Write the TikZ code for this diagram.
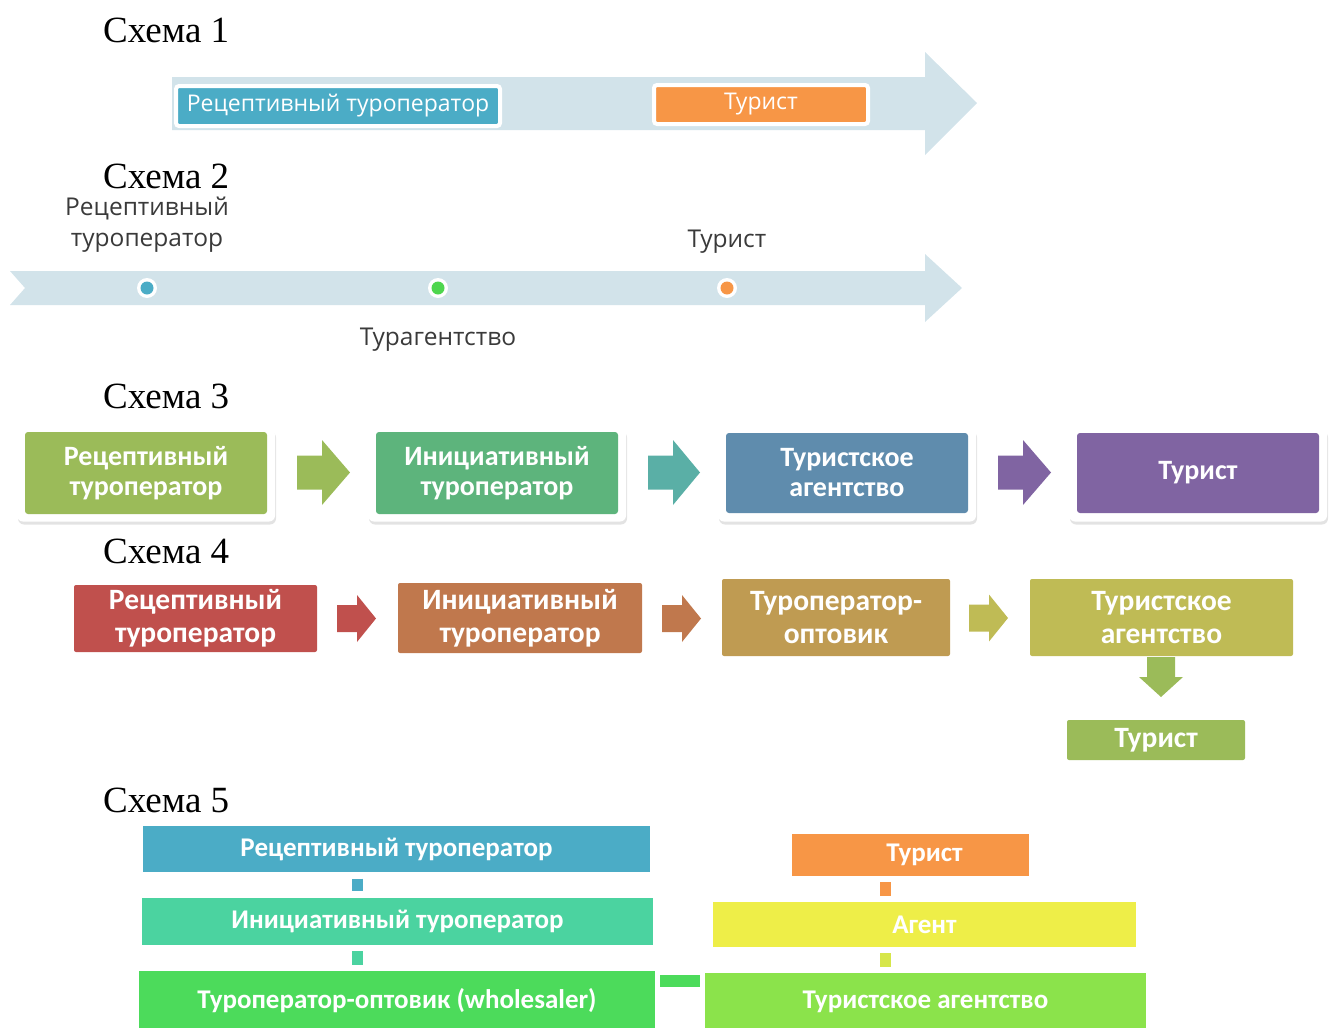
\documentclass[tikz,border=0pt]{standalone}
\usepackage{fontspec}
\setmainfont{Liberation Serif}
\newfontfamily\lblfont{Open Sans}
\newfontfamily\boxfont{Carlito}
\usetikzlibrary{shadows}

\definecolor{band}{HTML}{D2E3EA}
\definecolor{cblue}{HTML}{4BACC6}
\definecolor{corange}{HTML}{F79646}
\definecolor{cgreenA}{HTML}{9BBB59}
\definecolor{cgreenB}{HTML}{5DB47C}
\definecolor{csteel}{HTML}{5F8CAD}
\definecolor{cpurple}{HTML}{8064A2}
\definecolor{cteal}{HTML}{5AAFA6}
\definecolor{cred}{HTML}{C0504D}
\definecolor{cbrown}{HTML}{C0784D}
\definecolor{cochre}{HTML}{BF9B52}
\definecolor{colive}{HTML}{BFBB55}
\definecolor{cmint}{HTML}{4BD3A0}
\definecolor{cgreenC}{HTML}{4CDB5B}
\definecolor{cyellow}{HTML}{EEEE48}
\definecolor{clime}{HTML}{8BE34B}
\definecolor{cyl}{HTML}{D6E64A}
\definecolor{cdot}{HTML}{4ED64E}
\definecolor{ink}{HTML}{3A3A3A}

% block arrow pointing right: start x, head start x, tip x, centre y, half shaft, half head
\newcommand\rblock[7]{%
  \fill[#1] (#2,{#5-#6}) -- (#3,{#5-#6}) -- (#3,{#5-#7}) -- (#4,#5)
    -- (#3,{#5+#7}) -- (#3,{#5+#6}) -- (#2,{#5+#6}) -- cycle;}
% block arrow pointing down: centre x, start y, head start y, tip y, half shaft, half head
\newcommand\dblock[7]{%
  \fill[#1] ({#2-#6},#3) -- ({#2-#6},#4) -- ({#2-#7},#4) -- (#2,#5)
    -- ({#2+#7},#4) -- ({#2+#6},#4) -- ({#2+#6},#3) -- cycle;}

\tikzset{
  title/.style={anchor=base west, inner sep=0, font=\fontsize{37}{40}\selectfont},
  tag/.style={inner sep=0, text=ink, font=\lblfont\fontsize{24.5}{31}\selectfont, align=center},
  pill/.style={draw=white, line width=4pt, rounded corners=3pt, inner sep=0,
    text=white, font=\lblfont\fontsize{23}{26}\selectfont},
  frame/.style={fill=white, rounded corners=6pt, inner sep=0,
    drop shadow={opacity=0.22, shadow xshift=1pt, shadow yshift=-3pt}},
  boxA/.style={rounded corners=3pt, inner sep=0, text=white, align=center,
    font=\boxfont\bfseries\fontsize{28}{30}\selectfont},
  boxB/.style={rounded corners=2pt, inner sep=0, text=white, align=center,
    font=\boxfont\bfseries\fontsize{29.5}{33}\selectfont},
  boxC/.style={inner sep=0, text=white, align=center,
    font=\boxfont\bfseries\fontsize{27}{30}\selectfont},
  link/.style={line width=11pt, shorten <=#1, shorten >=#1},
  dotring/.style={circle, fill=white, inner sep=0, minimum size=20pt},
}

\begin{document}
\begin{tikzpicture}[x=1pt,y=-1pt]
\useasboundingbox (0,0) rectangle (1331,1028);
\clip (0,0) rectangle (1331,1028);

% ---------------- Схема 1 ----------------
\node[title] (t1) at (103,42) {Схема 1};
\fill[band] (172,77) -- (925,77) -- (925,52) -- (977,103) -- (925,155)
  -- (925,130) -- (172,130) -- cycle;
\node[pill, fill=cblue, minimum width=324, minimum height=40] (a1) at (338,106)
  {Рецептивный туроператор};
\node[pill, fill=corange, minimum width=214, minimum height=39] (a2) at (761,104.5)
  {Турист};

% ---------------- Схема 2 ----------------
\node[title] (t2) at (103,188) {Схема 2};
\fill[band] (10,271) -- (925,271) -- (925,254) -- (962,288) -- (925,322)
  -- (925,305) -- (10,305) -- (25,288) -- cycle;
\node[dotring] (d1) at (147,288) {};
\node[dotring] (d2) at (438,288) {};
\node[dotring] (d3) at (727,288) {};
\fill[cblue] (d1) circle (6.5);
\fill[cdot] (d2) circle (6.5);
\fill[corange] (d3) circle (6.5);
\node[tag] (l1) at (147,225) {Рецептивный\\туроператор};
\node[tag, anchor=base] (l3) at (727,247) {Турист};
\node[tag, anchor=base] (l2) at (438,345) {Турагентство};

% ---------------- Схема 3 ----------------
\node[title] (t3) at (103,408) {Схема 3};
\foreach \cx in {146,497,847,1198}
  \node[frame, minimum width=258, minimum height=93] at (\cx,475) {};
\node[boxA, fill=cgreenA, minimum width=242, minimum height=82] (c1) at (146,473)
  {Рецептивный\\туроператор};
\node[boxA, fill=cgreenB, minimum width=242, minimum height=82] (c2) at (497,473)
  {Инициативный\\туроператор};
\node[boxA, fill=csteel, minimum width=242, minimum height=80] (c3) at (847,473)
  {Туристское\\агентство};
\node[boxA, fill=cpurple, minimum width=242, minimum height=80] (c4) at (1198,473)
  {Турист};
\rblock{cgreenA}{297}{322}{350}{472.5}{17}{32.5}
\rblock{cteal}{648}{673}{700}{472.5}{17}{32.5}
\rblock{cpurple}{998}{1023}{1051}{472.5}{17}{32.5}

% ---------------- Схема 4 ----------------
\node[title] (t4) at (103,563) {Схема 4};
\node[boxB, fill=cred, minimum width=243, minimum height=67] (e1) at (195.5,618.5)
  {Рецептивный\\туроператор};
\node[boxB, fill=cbrown, minimum width=244, minimum height=70] (e2) at (520,618)
  {Инициативный\\туроператор};
\node[boxB, fill=cochre, minimum width=228, minimum height=77] (e3) at (836,617.5)
  {Туроператор-\\оптовик};
\node[boxB, fill=colive, minimum width=263, minimum height=77] (e4) at (1161.5,617.5)
  {Туристское\\агентство};
\node[boxB, fill=cgreenA, minimum width=178, minimum height=40] (e5) at (1156,740)
  {Турист};
\rblock{cred}{337}{357}{376}{618.5}{13.5}{23.5}
\rblock{cbrown}{662}{682}{701}{618.5}{13.5}{23.5}
\rblock{colive}{969}{989}{1008}{618}{13.5}{23.5}
\dblock{cgreenA}{1161}{657}{677}{697}{14}{22}

% ---------------- Схема 5 ----------------
\node[title] (t5) at (103,812) {Схема 5};
\node[boxC, fill=cblue, minimum width=507, minimum height=46] (f1) at (396.5,849)
  {Рецептивный туроператор};
\node[boxC, fill=cmint, minimum width=511, minimum height=47] (f2) at (397.5,921.5)
  {Инициативный туроператор};
\node[boxC, fill=cgreenC, minimum width=516, minimum height=58, anchor=north] (f3)
  at (397,971) {Туроператор-оптовик (wholesaler)};
\node[boxC, fill=corange, minimum width=237, minimum height=42] (g1) at (910.5,855)
  {\hspace*{28pt}Турист};
\node[boxC, fill=cyellow, minimum width=423, minimum height=45] (g2) at (924.5,924.5)
  {Агент};
\node[boxC, fill=clime, minimum width=441, minimum height=57, anchor=north] (g3)
  at (925.5,973) {Туристское агентство};

\coordinate (lx) at (357.5,0);
\coordinate (rx) at (885.5,0);
\coordinate (hy) at (0,981);
\draw[link=6.5pt, cblue] (f1.south -| lx) -- (f2.north -| lx);
\draw[link=6pt, cmint] (f2.south -| lx) -- (f3.north -| lx);
\draw[link=5pt, cgreenC, line width=12pt] (f3.east |- hy) -- (g3.west |- hy);
\draw[link=6pt, corange] (g1.south -| rx) -- (g2.north -| rx);
\draw[link=6pt, cyl] (g2.south -| rx) -- (g3.north -| rx);
\end{tikzpicture}
\end{document}
